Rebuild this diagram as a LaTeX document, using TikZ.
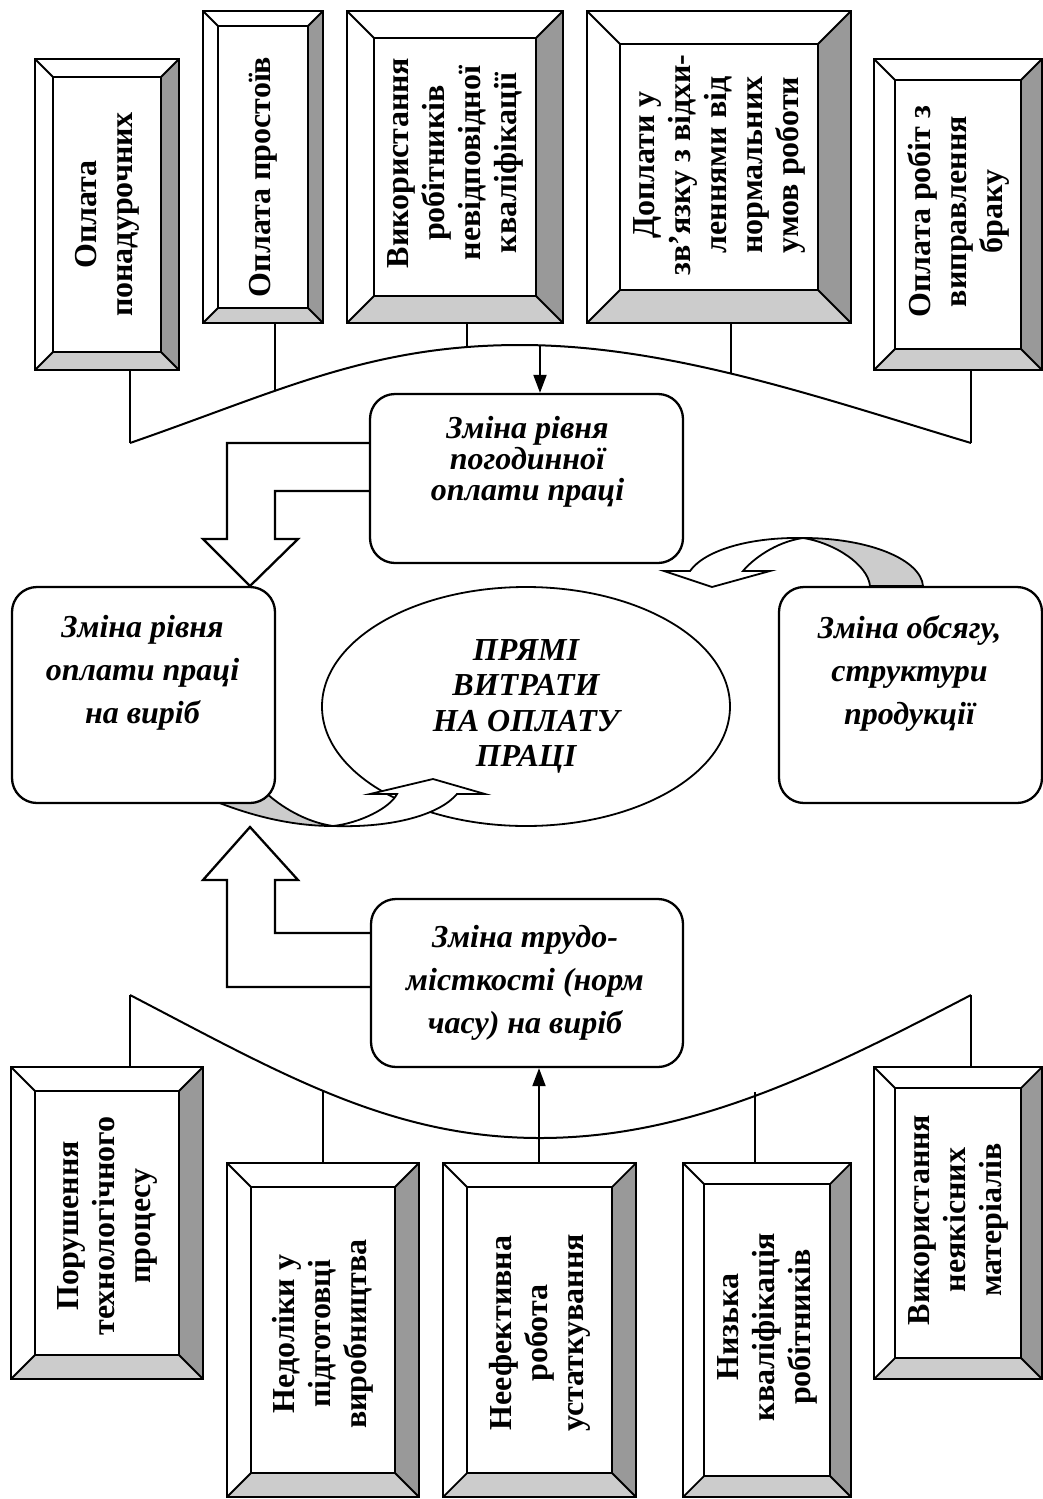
\documentclass[tikz,border=0pt]{standalone}
\usepackage{fontspec}
\setmainfont{Liberation Serif}
\usetikzlibrary{arrows.meta, shapes.geometric, fit, backgrounds}

\definecolor{bevlight}{HTML}{CCCCCC}
\definecolor{bevdark}{HTML}{999999}

\tikzset{
	bevtext/.style={rotate=90, align=center, inner sep=0pt, font=\bfseries\fontsize{32}{36}\selectfont},
	roundbox/.style={draw, fill=white, rounded corners=25pt, line width=2.3pt},
	roundtext/.style={align=center, inner sep=0pt, font=\bfseries\itshape\fontsize{32}{43}\selectfont},
	blockarr/.style={draw, fill=white, line width=2.3pt},
	link/.style={line width=2pt},
	twistarr/.style={draw, line width=1.8pt},
}

\begin{document}
\begin{tikzpicture}[x=1pt, y=-1pt]
			\useasboundingbox (0,0) rectangle (1043,1499);

			% bevelled boxes, top row and bottom row
			\foreach \nm/\xa/\ya/\xb/\yb/\bv/\dx/\txt in {
				ovt/35/59/179/370/18/0/{Оплата\\понадурочних},
				idle/203/11/323/323/15/-10/{Оплата простоїв},
				qual/347/11/563/323/27/4/{Використання\\робітників\\невідповідної\\кваліфікації},
				devi/587/11/851/323/33/2/{Доплати у\\зв’язку з відхи-\\леннями від\\нормальних\\умов роботи},
				defect/874/59/1042/370/21/3/{Оплата робіт з\\виправлення\\браку},
				tech/11/1067/203/1379/24/-3/{Порушення\\технологічного\\процесу},
				prep/227/1163/419/1497/24/-4/{Недоліки у\\підготовці\\виробництва},
				equip/443/1163/636/1497/24/-3/{Неефективна\\робота\\устаткування},
				lowq/683/1163/851/1497/21/3/{Низька\\кваліфікація\\робітників},
				mater/874/1067/1042/1379/21/3/{Використання\\неякісних\\матеріалів}} {

			\node[inner sep=0pt, fit={(\xa,\ya) (\xb,\yb)}] (\nm) {};
			\fill[bevlight] (\xa,\yb) -- (\xb,\yb) -- (\xb-\bv,\yb-\bv) -- (\xa+\bv,\yb-\bv) -- cycle; % bottom
			\fill[bevdark] (\xb,\ya) -- (\xb,\yb) -- (\xb-\bv,\yb-\bv) -- (\xb-\bv,\ya+\bv) -- cycle; % right
			\draw[line width=2.3pt] (\xa,\ya) rectangle (\xb,\yb);
			\draw[line width=1.8pt] (\xa+\bv,\ya+\bv) rectangle (\xb-\bv,\yb-\bv);
			\draw[line width=1.8pt] (\xa,\ya) -- ++(\bv,\bv) (\xb,\ya) -- ++(-\bv,\bv)
				(\xa,\yb) -- ++(\bv,-\bv) (\xb,\yb) -- ++(-\bv,-\bv); % corners
			\node[bevtext, xshift=\dx pt] (\nm-t) at (\nm) {\txt}; }

			% centre
			\node[draw, fill=white, ellipse, line width=1.8pt, minimum width=408pt, minimum height=239pt,
				inner sep=0pt, align=center, font=\bfseries\itshape\fontsize{32}{35.5}\selectfont]
				(core) at (526,706.5) {ПРЯМІ\\ВИТРАТИ\\НА ОПЛАТУ\\ПРАЦІ};

			% curved arrow, left box to centre
			\draw[twistarr, fill=bevlight] (217,802) .. controls (250,815) and (290,826) .. (333,826)
				.. controls (305,822) and (280,806) .. (265,792) -- cycle;
			\draw[twistarr, fill=white] (333,826) .. controls (360,823) and (390,808) .. (397,794)
				-- (370,794) -- (433,779) -- (485,794) -- (457,794)
				.. controls (440,814) and (395,828) .. (333,826) -- cycle;

			% curved arrow, right box to centre
			\draw[twistarr, fill=bevlight] (923,586) .. controls (921,560) and (870,538) .. (803,538)
				.. controls (835,543) and (868,565) .. (870,586) -- cycle;
			\draw[twistarr, fill=white] (803,538) .. controls (750,537) and (705,550) .. (690,571)
				-- (664,571) -- (712,587) -- (770,571) -- (743,571)
				.. controls (752,560) and (775,542) .. (803,538) -- cycle;

			% rounded boxes
			\node[roundbox, minimum width=313pt, minimum height=169pt] (hourly) at (526.5,478.5) {};
			\node[roundbox, minimum width=263pt, minimum height=216pt] (rate) at (143.5,695) {};
			\node[roundbox, minimum width=263pt, minimum height=216pt] (volume) at (910.5,695) {};
			\node[roundbox, minimum width=312pt, minimum height=168pt] (trudo) at (527,983) {};

			\node[roundtext, font=\bfseries\itshape\fontsize{32}{31}\selectfont] (hourly-t) at (527.5,462)
				{Зміна рівня\\погодинної\\оплати праці};
			\node[roundtext] (rate-t) at (142.5,673) {Зміна рівня\\оплати праці\\на виріб};
			\node[roundtext] (volume-t) at (909.5,673) {Зміна обсягу,\\структури\\продукції};
			\node[roundtext] (trudo-t) at (525,983) {Зміна трудо-\\місткості (норм\\часу) на виріб};

			% block arrows into the left box
			\begin{scope}[on background layer]
			\draw[blockarr] (hourly.west |- 0,443) -- (227,443) -- (227,539) -- (203,539) -- (250,586)
				-- (298,539) -- (275,539) -- (275,491) -- (hourly.west |- 0,491);
			\draw[blockarr] (trudo.west |- 0,987) -- (227,987) -- (227,880) -- (203,880) -- (250,827)
				-- (298,880) -- (275,880) -- (275,933) -- (trudo.west |- 0,933);
			\end{scope}

			% bracket under the top row
			\coordinate (u1) at (130,443);
			\coordinate (u2) at (275,390.5);
			\coordinate (u3) at (467,347);
			\coordinate (u4) at (540,345.3);
			\coordinate (u5) at (731,373);
			\coordinate (u6) at (971,443);
			\draw[link] (u1) .. controls (280,391) and (370,345) .. (520,345)
				.. controls (670,345) and (821,398) .. (u6);
			\draw[link] (ovt.south -| u1) -- (u1);
			\draw[link] (idle.south -| u2) -- (u2);
			\draw[link] (qual.south -| u3) -- (u3);
			\draw[link] (devi.south -| u5) -- (u5);
			\draw[link] (defect.south -| u6) -- (u6);
			\draw[link, -{Triangle[width=13pt, length=18pt]}] (u4) -- (u4 |- hourly.north);

			% bracket over the bottom row
			\coordinate (d1) at (130,995);
			\coordinate (d2) at (323,1091);
			\coordinate (d3) at (539,1138);
			\coordinate (d4) at (755,1092);
			\coordinate (d5) at (971,995);
			\draw[link] (d1) .. controls (280,1073) and (390,1138) .. (540,1138)
				.. controls (690,1138) and (821,1073) .. (d5);
			\draw[link] (d1) -- (d1 |- tech.north);
			\draw[link] (d2) -- (d2 |- prep.north);
			\draw[link] (d4) -- (d4 |- lowq.north);
			\draw[link] (d5) -- (d5 |- mater.north);
			\draw[link, -{Triangle[width=13pt, length=18pt]}] (d3 |- equip.north) -- (d3 |- trudo.south);
		\end{tikzpicture}
\end{document}
